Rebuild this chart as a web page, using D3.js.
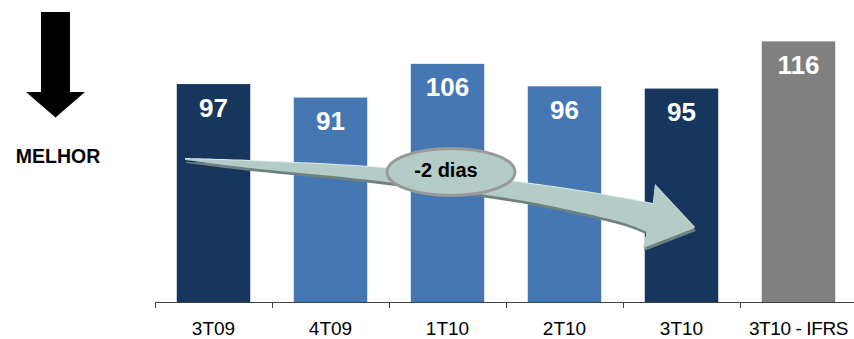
<!DOCTYPE html>
<html>
<head>
<meta charset="utf-8">
<script src="https://cdn.jsdelivr.net/npm/d3@7"></script>
<style>
  html, body { margin: 0; padding: 0; background: #fff; }
  svg { display: block; font-family: Arial, "Liberation Sans", sans-serif; }
</style>
</head>
<body>
<svg id="chart" width="854" height="339"></svg>
<script>
// Prazo médio (dias) por trimestre
const categories = ["3T09", "4T09", "1T10", "2T10", "3T10", "3T10 - IFRS"];
const values = [97, 91, 106, 96, 95, 116];
const barColors = ["#17365d", "#4577b3", "#4577b3", "#4577b3", "#17365d", "#808080"];
const badgeText = "-2 dias";
const sideLabel = "MELHOR";

const svg = d3.select("#chart");
const W = 854, H = 339;

const x = d3.scaleBand()
  .domain(categories)
  .range([155, 857])
  .paddingInner(0.372)
  .paddingOuter(0.186);

const y = d3.scaleLinear()
  .domain([0, 120])
  .range([302, 32.4]);

// Bars
svg.append("g")
  .selectAll("rect")
  .data(categories)
  .join("rect")
  .attr("x", d => x(d))
  .attr("width", x.bandwidth())
  .attr("y", (d, i) => y(values[i]))
  .attr("height", (d, i) => y(0) - y(values[i]))
  .attr("fill", (d, i) => barColors[i]);

// Value labels inside bars
svg.append("g")
  .selectAll("text")
  .data(categories)
  .join("text")
  .attr("x", d => x(d) + x.bandwidth() / 2)
  .attr("y", (d, i) => y(values[i]) + 32.5)
  .attr("text-anchor", "middle")
  .attr("fill", "#ffffff")
  .attr("font-weight", "bold")
  .attr("font-size", "26px")
  .text((d, i) => values[i]);

// Category axis: baseline with ticks at band boundaries
const axisG = svg.append("g");
const step = x.step();
const bounds = categories.map(c => x(c) - (step - x.bandwidth()) / 2);
axisG.append("line")
  .attr("x1", bounds[0]).attr("x2", W)
  .attr("y1", y(0) + 0.5).attr("y2", y(0) + 0.5)
  .attr("stroke", "#404040").attr("stroke-width", 1);
axisG.selectAll("line.tick")
  .data(bounds)
  .join("line")
  .attr("class", "tick")
  .attr("x1", d => Math.round(d) + 0.5).attr("x2", d => Math.round(d) + 0.5)
  .attr("y1", y(0)).attr("y2", y(0) + 6)
  .attr("stroke", "#404040");
axisG.selectAll("text")
  .data(categories)
  .join("text")
  .attr("x", d => x(d) + x.bandwidth() / 2)
  .attr("y", 334.5)
  .attr("text-anchor", "middle")
  .attr("font-size", "19px")
  .attr("fill", "#000")
  .attr("letter-spacing", d => d.length > 6 ? "-0.4px" : "0px")
  .text(d => d);

// "Lower is better" indicator on the left
svg.append("path")
  .attr("d", "M41,12 L70,12 L70,92 L85,92 L55.5,117.5 L26,92 L41,92 Z")
  .attr("fill", "#000");
svg.append("text")
  .attr("x", 58).attr("y", 163)
  .attr("text-anchor", "middle")
  .attr("font-weight", "bold")
  .attr("font-size", "19.5px")
  .attr("fill", "#000")
  .text(sideLabel);

// Curved trend arrow
const topEdge = [[185,159],[250,161],[370,167],[500,180],[560,188],[627,199],[653,204]];
const headPts = [[655,185],[695,228],[643,248],[647,232]];
const bottomEdge = [[647,232],[627,224],[560,208],[500,197],[370,180],[250,168],[185,160]];
const edge = d3.line().curve(d3.curveCatmullRom.alpha(0.5));
const arrowPath = edge(topEdge) +
  headPts.map(p => "L" + p[0] + "," + p[1]).join("") +
  edge(bottomEdge).replace(/^M/, "L") + "Z";

const arrowG = svg.append("g");
arrowG.append("path")
  .attr("d", arrowPath)
  .attr("transform", "translate(1,3)")
  .attr("fill", "#6f817e");
arrowG.append("path")
  .attr("d", arrowPath)
  .attr("transform", "translate(0,-1)")
  .attr("fill", "#dde8e5");
arrowG.append("path")
  .attr("d", arrowPath)
  .attr("fill", "#b4ccc7");

// Badge
svg.append("ellipse")
  .attr("cx", 451).attr("cy", 172)
  .attr("rx", 64).attr("ry", 23.5)
  .attr("fill", "#b4ccc7")
  .attr("stroke", "#999999")
  .attr("stroke-width", 3);
svg.append("text")
  .attr("x", 446).attr("y", 177)
  .attr("text-anchor", "middle")
  .attr("font-weight", "bold")
  .attr("font-size", "20px")
  .attr("fill", "#000")
  .text(badgeText);
</script>
</body>
</html>
